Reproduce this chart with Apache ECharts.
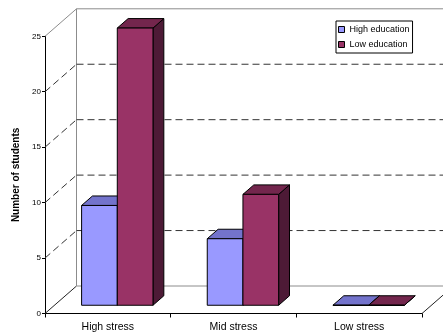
<!DOCTYPE html>
<html>
<head>
<meta charset="utf-8">
<script src="https://cdn.jsdelivr.net/npm/echarts@6/dist/echarts.min.js"></script>
<style>
  html, body { margin: 0; padding: 0; background: #ffffff; }
  #chart { width: 443px; height: 335px; }
</style>
</head>
<body>
<div id="chart"></div>
<script>
// Number of students per stress level
const categories = ['High stress', 'Mid stress', 'Low stress'];
const highEducation = [9, 6, 0];
const lowEducation = [25, 10, 0];
const yTicks = [0, 5, 10, 15, 20, 25];

const FONT = '"Liberation Sans", Arial, sans-serif';

// Oblique projection of the depth axis (pixels for the full floor depth)
const WALL_DEPTH = [31.5, -27.5];
const BAR_FRONT = 0.3;   // depth fraction where the bar fronts sit
const BAR_BACK = 0.645;  // depth fraction of the bar backs
const BAR_WIDTH = 0.284; // share of the category band per bar

const chart = echarts.init(document.getElementById('chart'), null, { renderer: 'canvas' });

// Walls, floor and gridlines, drawn from the value axis coordinates
function renderFrame(params, api) {
  const v = api.value(1);
  const cs = params.coordSys;
  const y = api.coord([0, v])[1];
  const x0 = cs.x, x1 = cs.x + cs.width;
  const DX = WALL_DEPTH[0], DY = WALL_DEPTH[1];
  const children = [];
  const line = (a, b, stroke, dash) => children.push({
    type: 'line',
    shape: { x1: a[0], y1: a[1], x2: b[0], y2: b[1] },
    style: { stroke: stroke, lineWidth: 1, lineDash: dash || null }
  });
  if (v === yTicks[0]) {
    const top = cs.y;
    line([x0, y], [x0 + DX, y + DY], '#222');
    line([x1, y], [x1 + DX, y + DY], '#222');
    line([x0 + DX, y + DY], [x1 + DX, y + DY], '#8c8c8c');
    line([x0 + DX, y + DY], [x0 + DX, top + DY], '#8c8c8c');
  } else if (v === yTicks[yTicks.length - 1]) {
    line([x0, y], [x0 + DX, y + DY], '#8c8c8c');
    line([x0 + DX, y + DY], [x1 + DX, y + DY], '#8c8c8c');
  } else {
    line([x0, y], [x0 + DX, y + DY], '#333', [7, 4]);
    line([x0 + DX, y + DY], [x1 + DX, y + DY], '#333', [7, 4]);
  }
  return { type: 'group', children: children };
}

// 3D bar: front face, top face and right side face
function barRenderer(slot, front, topColor, sideColor) {
  return function (params, api) {
    const cat = api.value(0);
    const c = api.coord([cat, api.value(1)]);
    const base = api.coord([cat, 0]);
    const band = api.size([1, 0])[0];
    const w = band * BAR_WIDTH;
    const fx = WALL_DEPTH[0] * BAR_FRONT, fy = WALL_DEPTH[1] * BAR_FRONT;
    const dx = WALL_DEPTH[0] * (BAR_BACK - BAR_FRONT);
    const dy = WALL_DEPTH[1] * (BAR_BACK - BAR_FRONT);
    const xl = c[0] + slot * w + fx, xr = xl + w;
    const yt = c[1] + fy, yb = base[1] + fy;
    const stroke = { stroke: '#000', lineWidth: 1, lineJoin: 'miter' };
    return {
      type: 'group',
      children: [
        { type: 'polygon', shape: { points: [[xr, yt], [xr + dx, yt + dy], [xr + dx, yb + dy], [xr, yb]] },
          style: Object.assign({ fill: sideColor }, stroke) },
        { type: 'polygon', shape: { points: [[xl, yt], [xl + dx, yt + dy], [xr + dx, yt + dy], [xr, yt]] },
          style: Object.assign({ fill: topColor }, stroke) },
        { type: 'polygon', shape: { points: [[xl, yt], [xr, yt], [xr, yb], [xl, yb]] },
          style: Object.assign({ fill: front }, stroke) }
      ]
    };
  };
}

const option = {
  animation: false,
  backgroundColor: '#ffffff',
  textStyle: { fontFamily: FONT },
  grid: { left: 45, right: 21, top: 36.3, bottom: 21.5, containLabel: false },
  legend: {
    orient: 'vertical',
    left: 336,
    top: 21,
    data: ['High education', 'Low education'],
    icon: 'rect',
    itemWidth: 6,
    itemHeight: 6,
    itemGap: 4,
    itemTextGap: 3,
    padding: [3, 3, 3, 2],
    borderColor: '#000',
    borderWidth: 1,
    backgroundColor: '#fff',
    itemStyle: { borderColor: '#000', borderWidth: 1 },
    textStyle: { fontFamily: FONT, fontSize: 9, color: '#000', lineHeight: 11 }
  },
  xAxis: {
    type: 'category',
    data: categories,
    boundaryGap: true,
    axisLine: { show: true, lineStyle: { color: '#000', width: 1 } },
    axisTick: { show: true, length: 4, lineStyle: { color: '#000' } },
    axisLabel: { fontFamily: FONT, fontSize: 10.5, color: '#000', margin: 8 },
    splitLine: { show: false }
  },
  yAxis: {
    type: 'value',
    min: 0,
    max: 25,
    interval: 5,
    name: 'Number of students',
    nameLocation: 'middle',
    nameGap: 15,
    nameRotate: 90,
    nameTextStyle: { fontFamily: FONT, fontSize: 10, fontWeight: 'bold', color: '#000' },
    axisLine: { show: true, lineStyle: { color: '#000', width: 1 } },
    axisTick: { show: true, length: 3, lineStyle: { color: '#000' } },
    axisLabel: { fontFamily: FONT, fontSize: 8, color: '#000', margin: 4 },
    splitLine: { show: false }
  },
  series: [
    {
      type: 'custom',
      name: 'frame',
      z: 1,
      silent: true,
      renderItem: renderFrame,
      encode: { x: 0, y: 1 },
      data: yTicks.map(v => [0, v])
    },
    {
      type: 'custom',
      name: 'High education',
      z: 3,
      itemStyle: { color: '#9999ff' },
      renderItem: barRenderer(-1, '#9999ff', '#7373cc', '#5c5ca6'),
      encode: { x: 0, y: 1 },
      data: highEducation.map((v, i) => [i, v])
    },
    {
      type: 'custom',
      name: 'Low education',
      z: 3,
      itemStyle: { color: '#993366' },
      renderItem: barRenderer(0, '#993366', '#73264d', '#4d1a36'),
      encode: { x: 0, y: 1 },
      data: lowEducation.map((v, i) => [i, v])
    }
  ]
};

chart.setOption(option);
</script>
</body>
</html>
